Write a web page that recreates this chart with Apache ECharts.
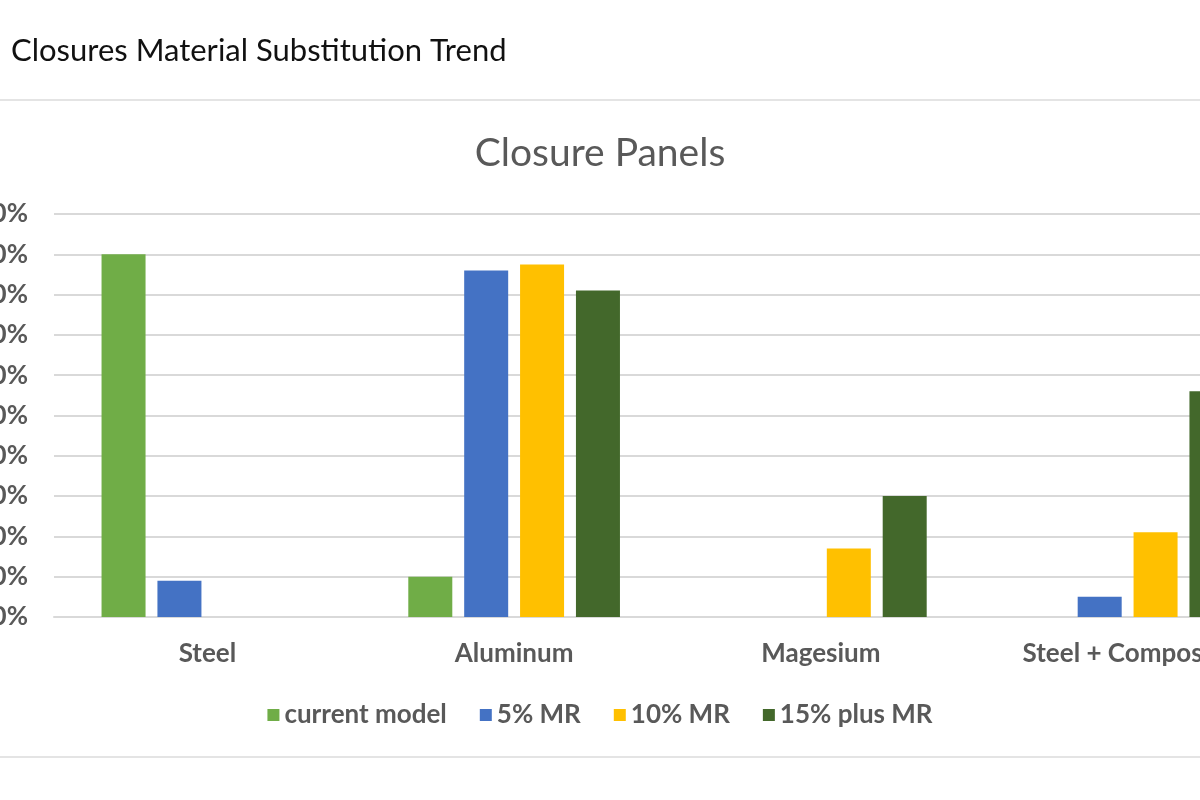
<!DOCTYPE html>
<html>
<head>
<meta charset="utf-8">
<title>Closure Panels</title>
<script src="https://cdn.jsdelivr.net/npm/echarts@6/dist/echarts.min.js"></script>
<style>
  html, body { margin: 0; padding: 0; background: #fff; }
  #main { width: 1200px; height: 800px; }
</style>
</head>
<body>
<div id="main"></div>
<script>
// categories and series values (percent)
var categories = ['Steel', 'Aluminum', 'Magesium', 'Steel + Composite'];
var seriesNames = ['current model', '5% MR', '10% MR', '15% plus MR'];
var currentModel = [90, 10, 0, 0];
var mr5 = [9, 86, 0, 5];
var mr10 = [0, 87.5, 17, 21];
var mr15 = [0, 81, 30, 56];
var colors = ['#70AD47', '#4472C4', '#FFC000', '#43682B'];

var myChart = echarts.init(document.getElementById('main'));

var values = [currentModel, mr5, mr10, mr15];
var series = [];
for (var i = 0; i < seriesNames.length; i++) {
    series.push({
        name: seriesNames[i],
        type: 'bar',
        data: values[i],
        barGap: '27%',
        barCategoryGap: '31%',
        itemStyle: { color: colors[i] }
    });
}

var option = {
    backgroundColor: '#fff',
    color: colors,
    title: [
        {
            text: 'Closures Material Substitution Trend',
            left: 6,
            top: 30,
            textStyle: { fontFamily: 'Lato', fontSize: 31, fontWeight: 'normal', color: '#111' }
        },
        {
            text: 'Closure Panels',
            left: 595,
            textAlign: 'center',
            top: 129,
            textStyle: { fontFamily: 'Lato', fontSize: 39, fontWeight: 'normal', color: '#595959' }
        }
    ],
    // separator lines above and below the chart box
    graphic: [
        { type: 'rect', shape: { x: 0, y: 99, width: 1200, height: 2 }, style: { fill: '#e4e4e4' } },
        { type: 'rect', shape: { x: 0, y: 756, width: 1200, height: 2 }, style: { fill: '#e4e4e4' } }
    ],
    legend: {
        data: seriesNames,
        left: 'center',
        top: 697,
        icon: 'rect',
        itemWidth: 12,
        itemHeight: 12,
        itemGap: 33,
        textStyle: { fontFamily: 'Lato', fontSize: 26, fontWeight: 'bold', color: '#595959' }
    },
    grid: {
        left: 54,
        right: -81,
        top: 214,
        bottom: 183,
        containLabel: false,
        outerBoundsMode: 'none'
    },
    xAxis: {
        type: 'category',
        data: categories,
        axisTick: { show: false },
        axisLine: { lineStyle: { color: '#d9d9d9', width: 2 } },
        axisLabel: {
            margin: 24,
            fontFamily: 'Lato',
            fontSize: 26,
            fontWeight: 'bold',
            color: '#595959'
        }
    },
    yAxis: {
        type: 'value',
        min: 0,
        max: 100,
        interval: 10,
        axisLine: { show: false },
        axisTick: { show: false },
        splitLine: { lineStyle: { color: '#d9d9d9', width: 2 } },
        axisLabel: {
            formatter: '{value}%',
            margin: 26,
            fontFamily: 'Lato',
            fontSize: 26,
            fontWeight: 'bold',
            color: '#595959'
        }
    },
    series: series
};

myChart.setOption(option);
</script>
</body>
</html>
